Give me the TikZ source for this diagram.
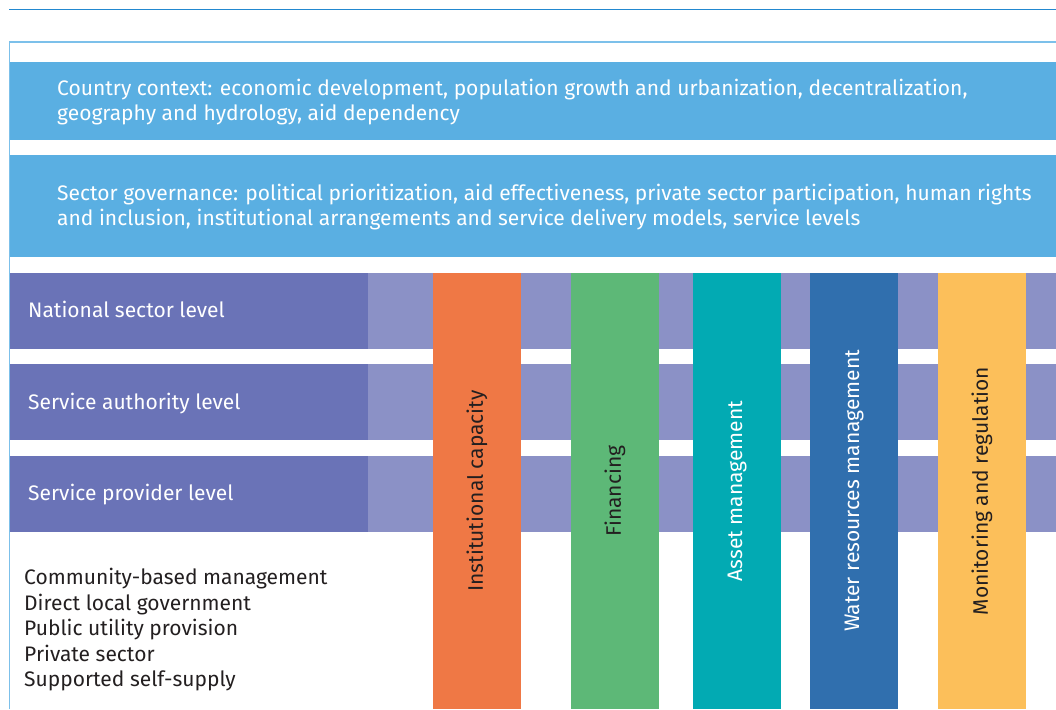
\documentclass[tikz,border=0pt]{standalone}
\usepackage{fontspec}
\setmainfont{Fira Sans}
\definecolor{topline}{HTML}{2288D0}
\definecolor{framecol}{HTML}{7CC0EA}
\definecolor{bandcol}{HTML}{5AAFE2}
\definecolor{rowdark}{HTML}{6A73B7}
\definecolor{rowlight}{HTML}{8B91C6}
\definecolor{barorange}{HTML}{EF7845}
\definecolor{bargreen}{HTML}{5DB877}
\definecolor{barteal}{HTML}{02AAB3}
\definecolor{barblue}{HTML}{306FAE}
\definecolor{baryellow}{HTML}{FCBF5A}
\definecolor{darktext}{HTML}{231F20}
\begin{document}
\begin{tikzpicture}[x=1pt,y=-1pt,
  box/.style={anchor=north west, inner sep=0pt, outer sep=0pt, draw=none},
  bodyfont/.style={font=\fontsize{21}{25.5}\selectfont},
  bandtext/.style={bodyfont, anchor=west, inner sep=0pt, align=left, text=white},
  rowtext/.style={bodyfont, anchor=base west, inner sep=0pt, text=white},
  bartext/.style={bodyfont, rotate=90, inner sep=0pt}]
\useasboundingbox (0,0) rectangle (1056,709);
% rules
\coordinate (tl0) at (9,9.5);
\coordinate (tl1) at (1056,9.5);
\draw[topline, line width=1.5pt] (tl0) -- (tl1);
\coordinate (fr0) at (9.5,709);
\coordinate (fr1) at (9.5,42);
\coordinate (fr2) at (1056,42);
\draw[framecol, line width=1.5pt] (fr0) -- (fr1) -- (fr2);
% context bands
\node[box, fill=bandcol, minimum width=1046pt, minimum height=78pt] (cc) at (10,62) {};
\node[box, fill=bandcol, minimum width=1046pt, minimum height=102pt] (sg) at (10,155) {};
\node[bandtext] (cct) at (57,102) {Country context: economic development, population growth and urbanization, decentralization,\\geography and hydrology, aid dependency};
\node[bandtext] (sgt) at (57,207) {Sector governance: political prioritization, aid effectiveness, private sector participation, human rights\\and inclusion, institutional arrangements and service delivery models, service levels};
% levels
\foreach \y/\n in {273/r1,364/r2,456/r3}{
  \node[box, fill=rowlight, minimum width=688pt, minimum height=76pt] (\n l) at (368,\y) {};
  \node[box, fill=rowdark, minimum width=358pt, minimum height=76pt] (\n d) at (10,\y) {};
}
\node[rowtext] (r1t) at (28,317) {National sector level};
\node[rowtext] (r2t) at (28,409) {Service authority level};
\node[rowtext] (r3t) at (28,500) {Service provider level};
% models
\node[bodyfont, anchor=west, inner sep=0pt, align=left, text=darktext] (models) at (24,630)
  {Community-based management\\Direct local government\\Public utility provision\\Private sector\\Supported self-supply};
% building blocks
\node[box, fill=barorange, minimum width=88pt, minimum height=436pt] (b1) at (433,273) {};
\node[box, fill=bargreen, minimum width=88pt, minimum height=436pt] (b2) at (571,273) {};
\node[box, fill=barteal, minimum width=88pt, minimum height=436pt] (b3) at (693,273) {};
\node[box, fill=barblue, minimum width=88pt, minimum height=436pt] (b4) at (810,273) {};
\node[box, fill=baryellow, minimum width=88pt, minimum height=436pt] (b5) at (938,273) {};
\node[bartext, text=darktext] (b1t) at (b1.center) {Institutional capacity};
\node[bartext, text=darktext] (b2t) at (b2.center) {Financing};
\node[bartext, text=white] (b3t) at (b3.center) {Asset management};
\node[bartext, text=white] (b4t) at (b4.center) {Water resources management};
\node[bartext, text=darktext] (b5t) at (b5.center) {Monitoring and regulation};
\end{tikzpicture}
\end{document}
